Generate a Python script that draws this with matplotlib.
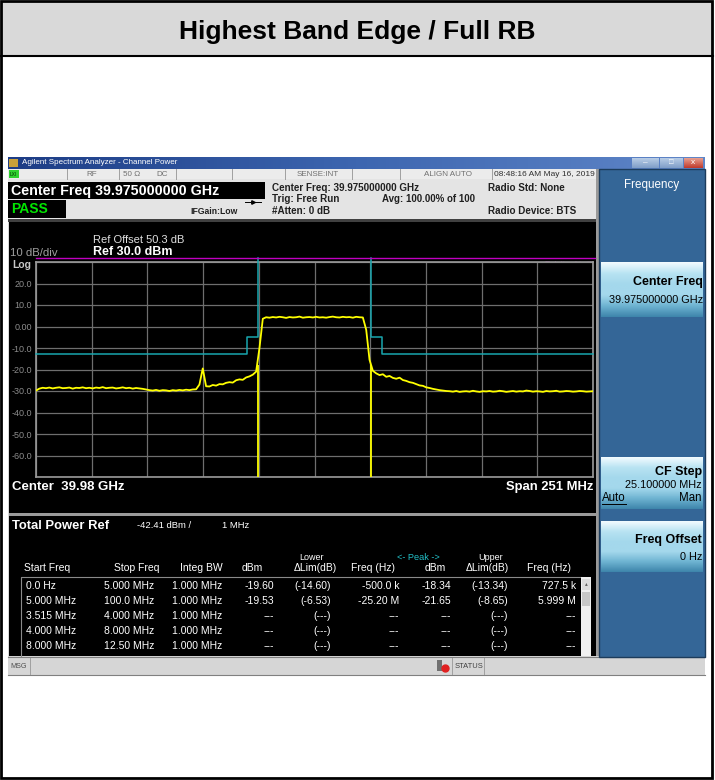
import numpy as np
import matplotlib
matplotlib.use("Agg")
import matplotlib.pyplot as plt
from matplotlib.patches import Rectangle
from matplotlib.colors import LinearSegmentedColormap

plt.rcParams['font.family'] = ['Liberation Sans', 'DejaVu Sans']

W, H = 715, 780

# instrument settings
span_mhz = 251.0
ref_dbm = 30.0
div_db = 10.0

# spectrum trace in dBm, sweep points spread evenly over the span
trace_dbm = [
    # -125 .. -77 MHz
    -29.8, -28.9, -28.5, -28.7, -28.4, -28.8, -28.5, -28.3, -28.7, -28.6, -28.4,
    -28.9, -28.5, -28.6, -28.3, -28.7, -28.5, -28.8, -28.4, -28.6, -28.2, -28.7,
    -28.5, -28.4, -28.8, -28.6, -28.3, -28.7, -28.5, -28.9, -28.6, -28.8, -29.0,
    # -76 .. -53 MHz
    -29.3, -29.6, -29.8, -29.5, -29.9, -29.6, -29.7, -30.0, -29.6, -29.8, -29.5,
    -29.7, -29.4, -29.6, -29.3, -29.2,
    # spur near -50 MHz
    -27.0, -19.5, -27.8,
    # lower shoulder
    -27.9, -27.2, -27.5, -26.8, -26.9, -26.2, -25.9, -26.1, -25.0, -24.6, -24.8,
    -23.7, -23.2, -22.4, -21.0,
    # rising edge
    -10.0, 3.6,
    # channel top
    4.3, 4.1, 4.4, 4.2, 4.5, 4.3, 4.0, 4.4, 4.2, 4.3, 4.6, 4.1, 4.3, 4.4, 4.2,
    4.5, 4.2, 4.3, 4.1, 4.4, 4.6, 4.3, 4.2, 4.5, 4.3, 4.4, 4.1, 4.5, 4.3, 4.2,
    # falling edge
    -1.5, -15.5, -20.6,
    # upper shoulder
    -21.8, -22.6, -22.2, -23.4, -23.0, -23.9, -24.3, -23.8, -24.9, -25.3, -25.9,
    -26.2, -26.8, -27.4, -27.6, -28.3, -28.6, -29.0, -29.3, -29.6, -29.8, -30.0,
    # 60 .. 125 MHz
    -30.1, -30.3, -30.0, -30.4, -30.2, -30.1, -30.3, -29.9, -30.2, -30.4, -30.1,
    -30.2, -30.0, -30.3, -30.2, -29.9, -30.1, -30.4, -30.2, -30.0, -30.3, -30.1,
    -30.2, -29.8, -30.0, -30.3, -30.1, -30.2, -30.4, -30.0, -30.2, -30.1, -29.9,
    -30.3, -30.2, -30.0, -30.1, -30.3, -30.2, -30.0, -30.1, -30.3, -30.2, -30.1,
]

# channel edges (trace drops to floor there)
edge_mhz = [-25.5, 25.5]
edge_top_dbm = [-18.0, -18.0]

# absolute limit, left and right parts
abs_left_mhz = [-125.5, -30.5, -30.5, -25.5, -25.5]
abs_left_dbm = [-13, -13, -5, -5, 32]
abs_right_mhz = [25.5, 25.5, 30.5, 30.5, 125.5]
abs_right_dbm = [32, -5, -5, -13, -13]
rel_limit_dbm = 32

ytick_labels = ['', '-60.0', '-50.0', '-40.0', '-30.0', '-20.0', '-10.0',
                '0.00', '10.0', '20.0', '']

# result table
table_header = ['Start Freq', 'Stop Freq', 'Integ BW', 'dBm', '\u0394Lim(dB)',
                'Freq (Hz)', 'dBm', '\u0394Lim(dB)', 'Freq (Hz)']
table_rows = [
    ['0.0 Hz', '5.000 MHz', '1.000 MHz', '-19.60', '(-14.60)', '-500.0 k', '-18.34', '(-13.34)', '727.5 k'],
    ['5.000 MHz', '100.0 MHz', '1.000 MHz', '-19.53', '(-6.53)', '-25.20 M', '-21.65', '(-8.65)', '5.999 M'],
    ['3.515 MHz', '4.000 MHz', '1.000 MHz', '---', '(---)', '---', '---', '(---)', '---'],
    ['4.000 MHz', '8.000 MHz', '1.000 MHz', '---', '(---)', '---', '---', '(---)', '---'],
    ['8.000 MHz', '12.50 MHz', '1.000 MHz', '---', '(---)', '---', '---', '(---)', '---'],
]

fig = plt.figure(figsize=(W / 100, H / 100), dpi=100)
bg = fig.add_axes([0, 0, 1, 1])
bg.axis('off')


def rect(x0, y0, x1, y1, color, z=1, **kw):
    bg.add_patch(Rectangle((x0, y0), x1 - x0, y1 - y0, facecolor=color, zorder=z, **kw))


def txt(x, y, s, size=6, color='black', ha='left', weight='normal', z=5, **kw):
    bg.text(x, y, s, fontsize=size, color=color, ha=ha, va='center',
            fontweight=weight, zorder=z, **kw)


def grad(x0, y0, x1, y1, colors, vertical=True, z=2):
    cm = LinearSegmentedColormap.from_list('g', colors)
    g = np.linspace(0, 1, 64)
    g = g.reshape(-1, 1) if vertical else g.reshape(1, -1)
    bg.imshow(g, cmap=cm, extent=(x0, x1, y1, y0), aspect='auto',
              origin='upper', zorder=z, interpolation='bilinear')


# page frame + title cell
rect(0, 0, W, H, 'white', z=0)
rect(1, 1, W - 3, 55, '#d9d9d9')
bg.plot([0, W - 2], [56, 56], color='black', lw=1.5, zorder=3)
bg.add_patch(Rectangle((1, 1), W - 4, H - 3, fill=False, edgecolor='black', lw=2, zorder=6))
txt(W / 2, 32, 'Highest Band Edge / Full RB', size=19, weight='bold', ha='center')

# analyzer window
rect(8, 157, 705, 676, '#d8d8d8')
grad(8, 157, 705, 169, ['#1d3d86', '#3d66b0', '#5f86c8'], vertical=False)
rect(9, 159, 18, 167, '#c9a13a', z=3)
txt(22, 163, 'Agilent Spectrum Analyzer - Channel Power', size=5.8, color='white')
grad(632, 158, 659, 168, ['#b9cde6', '#7f9ec8'], z=3)
grad(660, 158, 683, 168, ['#b9cde6', '#7f9ec8'], z=3)
grad(684, 158, 703, 168, ['#e8a090', '#c0392b'], z=3)
txt(645, 163, '\u2013', size=6, color='white', ha='center', z=6)
txt(671, 163, '\u25a1', size=5.5, color='white', ha='center', z=6)
txt(693, 163, 'x', size=6, color='white', ha='center', z=6)

# status row
rect(8, 169, 598, 179, '#ececec', z=2)
rect(9, 170, 19, 178, '#2fd12f', z=3)
txt(10, 174, 'LXI', size=3.5, color='#003300', z=6)
for x in [67, 119, 176, 232, 285, 352, 400, 492]:
    bg.plot([x, x], [169, 179], color='#a0a0a0', lw=0.7, zorder=3)
txt(92, 174, 'RF', size=5.8, color='#707070', ha='center')
txt(132, 174, '50 \u03a9', size=5.8, color='#707070', ha='center')
txt(162, 174, 'DC', size=5.8, color='#707070', ha='center')
txt(318, 174, 'SENSE:INT', size=5.8, color='#707070', ha='center')
txt(448, 174, 'ALIGN AUTO', size=5.8, color='#707070', ha='center')
txt(544, 174, '08:48:16 AM May 16, 2019', size=6.0, color='#303030', ha='center')

# header info
rect(8, 179, 598, 220, '#e4e4e4', z=2)
rect(8, 182, 265, 199, 'black', z=3)
txt(11, 191, 'Center Freq 39.975000000 GHz', size=10.3, color='white', weight='bold')
rect(8, 200, 66, 218, 'black', z=3)
txt(11, 209, 'PASS', size=10, color='#00e600', weight='bold')
txt(190, 212, 'IFGain:Low', size=6.2, weight='bold', color='#202020')
bg.plot([245, 261], [202, 202], color='black', lw=0.7, zorder=4)
bg.plot([253], [202], marker='>', ms=2.5, color='black', zorder=4)
txt(272, 188, 'Center Freq: 39.975000000 GHz', size=7.1, weight='bold', color='#202020')
txt(272, 199.5, 'Trig: Free Run', size=7.1, weight='bold', color='#202020')
txt(272, 211, '#Atten: 0 dB', size=7.1, weight='bold', color='#202020')
txt(382, 199.5, 'Avg: 100.00% of 100', size=7.0, weight='bold', color='#202020')
txt(488, 188, 'Radio Std: None', size=7.1, weight='bold', color='#202020')
txt(488, 211, 'Radio Device: BTS', size=7.1, weight='bold', color='#202020')
rect(8, 219, 598, 222, '#404040', z=3)

# black screen areas
rect(9, 222, 596, 513, 'black', z=3)
rect(9, 513, 596, 516, '#9a9a9a', z=3)
rect(9, 516, 596, 656, 'black', z=3)
rect(596, 169, 599, 657, '#9a9a9a', z=3)

# plot annotations
txt(93, 240, 'Ref Offset 50.3 dB', size=8, color='#e0e0e0')
txt(93, 252, 'Ref 30.0 dBm', size=9, color='white', weight='bold')
txt(10, 253.5, '10 dB/div', size=8.2, color='#a0a0a0')
txt(12, 264.5, 'Log', size=7.5, color='#c8c8c8', weight='bold')
txt(591, 264, 'Relative Limit', size=5.5, color='#a000a0', ha='right', z=8)
txt(591, 349, 'Absolute Limit', size=5.5, color='#18a0a8', ha='right', z=8)
txt(591, 384, 'Spectrum', size=5.5, color='#b8b800', ha='right', z=8)
txt(12, 487, 'Center  39.98 GHz', size=9.5, color='white', weight='bold')
txt(593, 487, 'Span 251 MHz', size=9.4, color='white', weight='bold', ha='right')

# table
txt(12, 526, 'Total Power Ref', size=9.4, color='white', weight='bold')
txt(137, 526, '-42.41 dBm /', size=6.8, color='white')
txt(222, 526, '1 MHz', size=6.8, color='white')
txt(311, 557, 'Lower', size=6.5, color='white', ha='center')
txt(418, 557, '<- Peak ->', size=6.6, color='#22c0c8', ha='center')
txt(491, 557, 'Upper', size=6.5, color='white', ha='center')
head_x = [24, 159, 223, 263, 337, 395, 446, 509, 571]
head_ha = ['left'] + ['right'] * 8
for s, x, ha in zip(table_header, head_x, head_ha):
    txt(x, 568, s, size=7.5, color='white', ha=ha)
row_x = [26, 154, 222, 274, 331, 399, 451, 508, 576]
row_y = [586, 601, 616, 631, 646]
for row, y in zip(table_rows, row_y):
    for s, x, ha in zip(row, row_x, head_ha):
        txt(x, y, s, size=7.5, color='white', ha=ha)
bg.plot([21, 21, 581], [656, 577, 577], color='#8a8a8a', lw=0.8, zorder=4)
rect(581, 577, 591, 656, '#f0f0f0', z=4)
rect(582, 579, 590, 590, '#dcdcdc', z=4)
rect(582, 592, 590, 606, '#c8c8c8', z=4)
txt(586, 584, '\u25b4', size=4, color='#606060', ha='center', z=6)

# status bar
rect(8, 656, 705, 676, '#d6d6d6', z=3)
bg.plot([8, 705], [657, 657], color='#808080', lw=0.8, zorder=4)
bg.plot([8, 705], [675, 675], color='#808080', lw=0.8, zorder=4)
bg.plot([30, 30], [658, 674], color='#a0a0a0', lw=0.7, zorder=4)
bg.plot([452, 452], [658, 674], color='#a0a0a0', lw=0.7, zorder=4)
bg.plot([484, 484], [658, 674], color='#a0a0a0', lw=0.7, zorder=4)
txt(10, 666, 'MSG', size=5.2, color='#505050')
rect(437, 660, 442, 671, '#707070', z=4)
bg.plot([445], [668], marker='o', ms=5, color='#e02020', zorder=5)
txt(455, 666, 'STATUS', size=5.4, color='#404040')

# softkey panel
rect(599, 169, 705, 657, '#346697', z=3)
bg.add_patch(Rectangle((599, 169), 106, 488, fill=False, edgecolor='#1c3c5c', lw=1, zorder=4))
txt(652, 185, 'Frequency', size=8.4, color='white', ha='center')
btn_cols = ['#f2fbff', '#b8e3f2', '#a4d8ec', '#a4d8ec', '#6fb4d2', '#3f86ac']
for y0, y1 in [(262, 317), (457, 509), (521, 572)]:
    grad(601, y0, 703, y1, btn_cols, z=4)
txt(703, 282, 'Center Freq', size=9, weight='bold', ha='right', z=6)
txt(703, 300, '39.975000000 GHz', size=7.8, ha='right', z=6)
txt(702, 471.5, 'CF Step', size=9, weight='bold', ha='right', z=6)
txt(702, 484.5, '25.100000 MHz', size=7.8, ha='right', z=6)
txt(602, 498, 'Auto', size=8.3, ha='left', z=6)
bg.plot([602, 626], [503.5, 503.5], color='black', lw=0.7, zorder=6)
txt(702, 498, 'Man', size=8.3, ha='right', z=6)
txt(702, 540, 'Freq Offset', size=9, weight='bold', ha='right', z=6)
txt(702, 557, '0 Hz', size=7.8, ha='right', z=6)

bg.set_xlim(0, W)
bg.set_ylim(H, 0)

# spectrum graticule
ax = fig.add_axes([36 / W, 1 - 477 / H, 557 / W, 215 / H])
ax.set_facecolor('black')
freq = np.linspace(-span_mhz / 2, span_mhz / 2, len(trace_dbm))
ax.plot(freq, trace_dbm, color='#ffff00', lw=1.3, zorder=4)
ax.vlines(edge_mhz, ref_dbm - 10 * div_db, edge_top_dbm, color='#ffff00', lw=1.3, zorder=4)
ax.plot(abs_left_mhz, abs_left_dbm, color='#18a6ae', lw=1.1, clip_on=False, zorder=3)
ax.plot(abs_right_mhz, abs_right_dbm, color='#18a6ae', lw=1.1, clip_on=False, zorder=3)
ax.plot([-span_mhz / 2, span_mhz / 2 + 1], [rel_limit_dbm] * 2, color='#c000c0',
        lw=1.0, clip_on=False, zorder=3)
ax.set_xlim(-span_mhz / 2, span_mhz / 2)
ax.set_ylim(ref_dbm - 10 * div_db, ref_dbm)
ax.set_xticks(np.linspace(-span_mhz / 2, span_mhz / 2, 11))
ax.set_xticklabels([])
ax.set_yticks(np.arange(ref_dbm - 10 * div_db, ref_dbm + 1, div_db))
ax.set_yticklabels(ytick_labels)
ax.grid(color='#6e6e6e', lw=0.9, zorder=1)
ax.tick_params(length=0, colors='#8c8c8c', labelsize=6.5, pad=3)
for sp in ax.spines.values():
    sp.set_color('#9a9a9a')
    sp.set_linewidth(1.2)

fig.savefig('out.png', dpi=100)
